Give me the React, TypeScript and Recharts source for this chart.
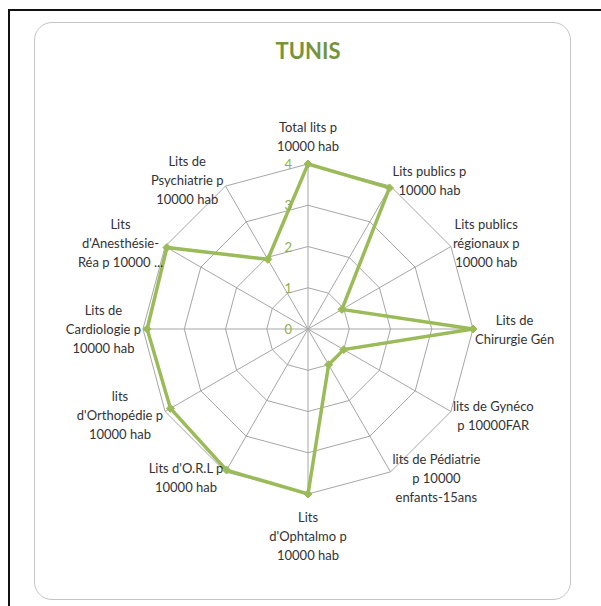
import { RadarChart, PolarGrid, PolarAngleAxis, PolarRadiusAxis, Radar } from 'recharts'

const categories = [
  'Total lits p|10000 hab',
  'Lits publics p|10000 hab',
  'Lits publics|régionaux p|10000 hab',
  'Lits de|Chirurgie Gén',
  'lits de Gynéco|p 10000FAR',
  'lits de Pédiatrie|p 10000|enfants-15ans',
  "Lits|d'Ophtalmo p|10000 hab",
  "Lits d'O.R.L p|10000 hab",
  "lits|d'Orthopédie p|10000 hab",
  'Lits de|Cardiologie p|10000 hab',
  "Lits|d'Anesthésie-|Réa p 10000 ...",
  'Lits de|Psychiatrie p|10000 hab',
]
const values = [4, 3.95, 0.95, 4, 1, 1, 4, 3.95, 3.85, 3.9, 3.95, 1.95]
const radiusTicks = [0, 1, 2, 3, 4]

const data = categories.map((c, i) => ({ category: c, value: values[i] }))

const W = 601
const H = 606
const CX = 308
const CY = 329
const R = 165
const LINE_H = 19
const GREEN = '#9bbb59'
const LABEL_FONT = '13px Lato, sans-serif'

let ctx: CanvasRenderingContext2D | null = null
function textWidth(s: string) {
  if (!ctx) ctx = document.createElement('canvas').getContext('2d')
  if (!ctx) return s.length * 6.5
  ctx.font = LABEL_FONT
  return ctx.measureText(s).width
}

function AngleTick(props: any) {
  const { x, y, payload } = props
  const lines: string[] = String(payload.value).split('|')
  const dx = x - CX
  const dy = y - CY
  const d = Math.sqrt(dx * dx + dy * dy) || 1
  const ux = dx / d
  const uy = dy / d
  const vx = CX + ux * R
  const vy = CY + uy * R
  let tx = vx
  let firstY: number
  if (Math.abs(ux) < 0.01) {
    if (uy < 0) firstY = vy - 13 - (lines.length - 1) * LINE_H
    else firstY = vy + 28
  } else {
    const bw = Math.max(...lines.map(textWidth))
    tx = ux > 0 ? vx + 2 + bw / 2 : vx - 2 - bw / 2
    const center = vy + uy * 7 + 1
    firstY = center - ((lines.length - 1) * LINE_H) / 2 + 4
  }
  return (
    <text x={tx} y={firstY} textAnchor="middle" fill="#333" fontSize={13} fontFamily="Lato, sans-serif">
      {lines.map((l, i) => (
        <tspan key={i} x={tx} y={firstY + i * LINE_H}>{l}</tspan>
      ))}
    </text>
  )
}

function RadiusTick(props: any) {
  const { x, y, payload } = props
  return (
    <text x={x - 16} y={y} textAnchor="end" dominantBaseline="central" fill="#8fae4f" fontSize={13} fontFamily="Lato, sans-serif">
      {payload.value}
    </text>
  )
}

function Diamond(props: any) {
  const { cx, cy, index } = props
  const s = 4
  return <polygon key={index} points={`${cx},${cy - s} ${cx + s},${cy} ${cx},${cy + s} ${cx - s},${cy}`} fill={GREEN} stroke={GREEN} />
}

export default function App() {
  return (
    <div style={{ position: 'relative', width: W, height: H, overflow: 'hidden', background: '#fff' }}>
      <style>{'body { margin: 0; overflow: hidden; }'}</style>
      <div style={{ position: 'absolute', left: 8, top: 9, width: 800, height: 800, borderTop: '2px solid #111', borderLeft: '2px solid #111' }} />
      <div style={{ position: 'absolute', left: 34, top: 22, width: 535, height: 576, border: '1.5px solid #c4c4c4', borderRadius: 18 }} />
      <div style={{ position: 'absolute', left: 0, top: 38, width: 616, textAlign: 'center', color: '#77933c', fontFamily: 'Lato, sans-serif', fontWeight: 700, fontSize: 22, lineHeight: '26px' }}>
        TUNIS
      </div>
      <div style={{ position: 'absolute', left: 0, top: 0 }}>
        <RadarChart width={W} height={H} cx={CX} cy={CY} outerRadius={R} data={data}>
          <PolarGrid gridType="polygon" stroke="#a6a6a6" strokeWidth={1} />
          <PolarAngleAxis dataKey="category" tick={AngleTick} tickLine={false} axisLine={false} />
          <PolarRadiusAxis angle={90} domain={[0, 4]} tickCount={radiusTicks.length} tick={RadiusTick} axisLine={false} tickLine={false} />
          <Radar dataKey="value" stroke={GREEN} strokeWidth={3.5} fill="none" fillOpacity={0} dot={Diamond} isAnimationActive={false} />
        </RadarChart>
      </div>
    </div>
  )
}
